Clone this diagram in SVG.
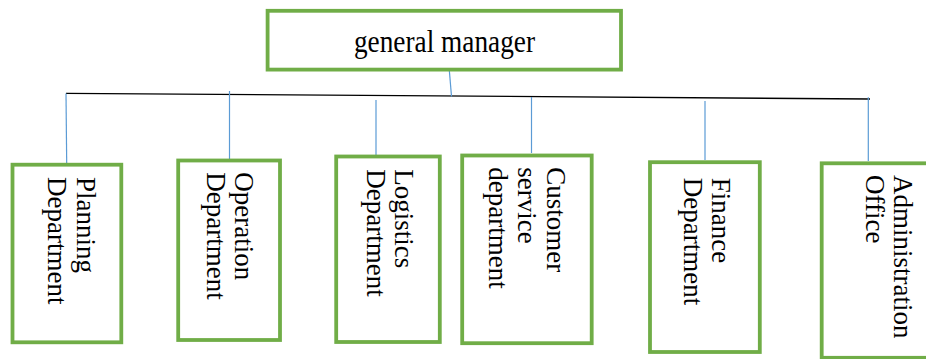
<svg xmlns="http://www.w3.org/2000/svg" width="926" height="359" viewBox="0 0 926 359">
<style>
.box{fill:#ffffff;stroke:#70AD47;stroke-width:3.8}
.lbl{font-family:"Liberation Serif","Times New Roman",serif;font-size:27px;fill:#000000}
.conn{stroke:#5B9BD5;stroke-width:1.2;fill:none}
.bus{stroke:#000000;stroke-width:1.3;fill:none}
</style>
<rect width="926" height="359" fill="#ffffff"/>
<g id="connectors">
<line class="bus" x1="66" y1="93.3" x2="870" y2="99"/>
<line class="conn" x1="449" y1="66.5" x2="451.5" y2="96.5"/>
<line class="conn" x1="66" y1="93.5" x2="66.7" y2="163"/>
<line class="conn" x1="229.5" y1="91" x2="229.5" y2="159"/>
<line class="conn" x1="376" y1="100" x2="376" y2="156"/>
<line class="conn" x1="531.5" y1="97" x2="531.5" y2="153"/>
<line class="conn" x1="705" y1="101" x2="705" y2="160"/>
<line class="conn" x1="868.3" y1="97.3" x2="868.3" y2="161"/>
</g>
<g id="general-manager">
<rect class="box" x="267.6" y="10.8" width="353.4" height="58.8"/>
<text class="lbl" x="444.5" y="52.5" text-anchor="middle" transform="translate(0,-8) scale(1,1.15)" style="font-size:27.3px">general manager</text>
</g>
<g id="planning">
<rect class="box" x="12.5" y="164.7" width="108.8" height="177.6"/>
<text class="lbl" transform="translate(77.3,177) rotate(90)"><tspan x="0" y="0">Planning</tspan><tspan x="0" dy="29">Department</tspan></text>
</g>
<g id="operation">
<rect class="box" x="178.2" y="160.5" width="101.8" height="179.5"/>
<text class="lbl" transform="translate(235,172.3) rotate(90)"><tspan x="0" y="0">Operation</tspan><tspan x="0" dy="28.3">Department</tspan></text>
</g>
<g id="logistics">
<rect class="box" x="336.2" y="156.5" width="103.6" height="185.5"/>
<text class="lbl" transform="translate(395,169.3) rotate(90)"><tspan x="0" y="0">Logistics</tspan><tspan x="0" dy="28.3">Department</tspan></text>
</g>
<g id="customer-service">
<rect class="box" x="462.2" y="155.5" width="129.5" height="187.7"/>
<text class="lbl" transform="translate(547,167.3) rotate(90)"><tspan x="0" y="0">Customer</tspan><tspan x="0" dy="29">service</tspan><tspan x="0" dy="29">department</tspan></text>
</g>
<g id="finance">
<rect class="box" x="650" y="162.2" width="109.8" height="189.8"/>
<text class="lbl" transform="translate(712,177.7) rotate(90)"><tspan x="0" y="0">Finance</tspan><tspan x="0" dy="28">Department</tspan></text>
</g>
<g id="administration">
<rect class="box" x="821.7" y="163.3" width="120" height="194.5"/>
<text class="lbl" transform="translate(894,175) rotate(90)"><tspan x="0" y="0">Administration</tspan><tspan x="0" dy="28">Office</tspan></text>
</g>
</svg>
